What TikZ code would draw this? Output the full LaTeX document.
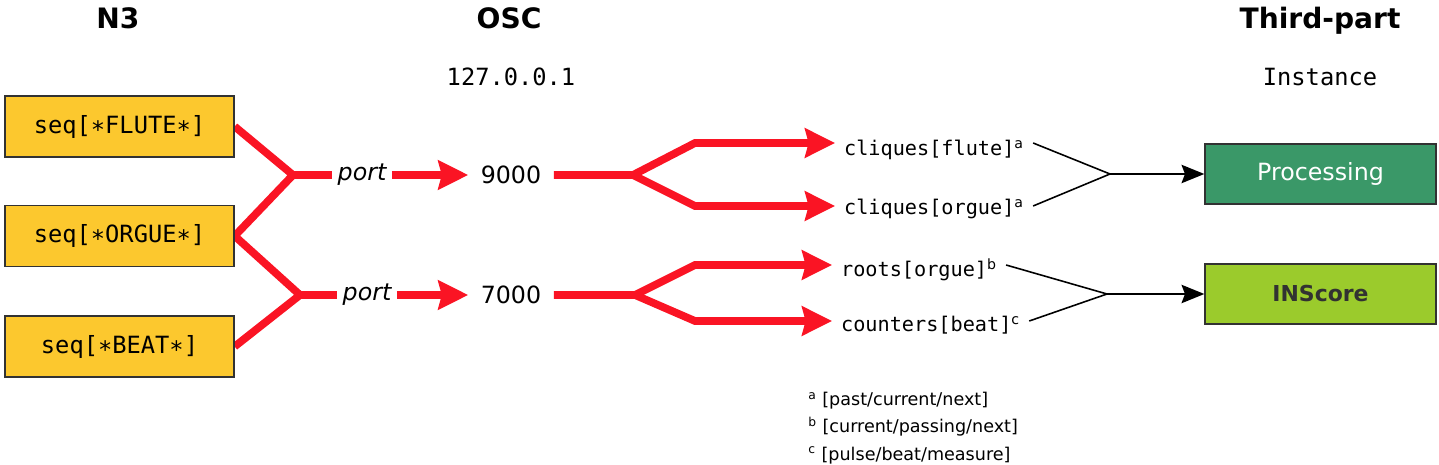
\documentclass[tikz,border=0pt]{standalone}
\usepackage{fontspec}
\setmainfont{DejaVu Sans}
\setmonofont{DejaVu Sans Mono}
\usepackage{xcolor}
\definecolor{seqyellow}{RGB}{252,200,46}
\definecolor{oscred}{RGB}{250,20,36}
\definecolor{procgreen}{RGB}{58,152,104}
\definecolor{insgreen}{RGB}{155,203,44}
\definecolor{boxline}{RGB}{50,50,50}
\usepackage{tikz}
\usetikzlibrary{
  arrows.meta,
  backgrounds
}

\begin{document}
\begin{tikzpicture}[
  x=0.02cm, y=-0.02cm,
  title/.style={anchor=base, font=\fontsize{16}{19}\selectfont\bfseries},
  sub/.style={anchor=base, font=\fontsize{13.5}{16}\selectfont\ttfamily},
  seqbox/.style={rectangle, draw=boxline, line width=0.8pt, fill=seqyellow, minimum width=4.58cm, minimum height=1.22cm, inner sep=0pt, font=\fontsize{13.5}{15}\selectfont\ttfamily},
  appbox/.style={rectangle, draw=boxline, line width=0.8pt, minimum width=4.62cm, minimum height=1.2cm, inner sep=0pt},
  portlbl/.style={inner sep=3pt, font=\fontsize{13.5}{15}\selectfont\itshape},
  portnum/.style={inner xsep=7pt, font=\fontsize{13.5}{15}\selectfont},
  addr/.style={anchor=base west, inner xsep=5pt, font=\fontsize{11.5}{13}\selectfont\ttfamily},
  note/.style={anchor=base west, inner sep=0pt, font=\fontsize{10}{12}\selectfont},
  feed/.style={line width=4.4pt, oscred},
  feedarrow/.style={feed, -{Stealth[length=17pt, width=16.5pt, inset=2pt]}},
  link/.style={line width=0.9pt, black},
  linkarrow/.style={link, -{Stealth[length=13pt, width=10.5pt, inset=2pt]}}
]
  \useasboundingbox (0,0) rectangle (1439,465);

  % Headings
  \node[title] (n3) at (118,29) {N3};
  \node[title] (osc) at (509,29) {OSC};
  \node[title] (third) at (1320,29) {Third-part};
  \node[sub] (ip) at (511,86) {127.0.0.1};
  \node[sub] (inst) at (1320,86) {Instance};

  % N3 sequences
  \node[seqbox] (flute) at (119.5,126.5) {seq[∗FLUTE∗]};
  \node[seqbox] (orgue) at (119.5,236) {seq[∗ORGUE∗]};
  \node[seqbox] (beat) at (119.5,346.5) {seq[∗BEAT∗]};

  % OSC ports
  \coordinate (j1) at (293,175);
  \coordinate (j2) at (300,295);
  \node[portlbl] (p1) at (362,175) {port};
  \node[portlbl] (p2) at (367,295) {port};
  \node[portnum] (n9000) at (511,175) {9000};
  \node[portnum] (n7000) at (511,295) {7000};

  % Addresses
  \coordinate (j3) at (633,175);
  \coordinate (b1) at (695,143);
  \coordinate (b2) at (695,206);
  \coordinate (j4) at (635,295);
  \coordinate (b3) at (695,265);
  \coordinate (b4) at (695,321);
  \node[addr] (cf) at (835,156) {cliques[flute]\textsuperscript{\rmfamily a}};
  \node[addr] (co) at (835,215) {cliques[orgue]\textsuperscript{\rmfamily a}};
  \node[addr] (ro) at (832,277) {roots[orgue]\textsuperscript{\rmfamily b}};
  \node[addr] (cb) at (832,332) {counters[beat]\textsuperscript{\rmfamily c}};

  % Third-part instances
  \coordinate (j5) at (1110,174);
  \coordinate (j6) at (1107,294);
  \node[appbox, fill=procgreen, text=white, font=\fontsize{13.5}{15}\selectfont] (proc) at (1320.5,174) {Processing};
  \node[appbox, fill=insgreen, text=boxline, font=\fontsize{12.5}{14}\selectfont\bfseries] (insc) at (1320.5,294) {INScore};

  % Footnotes
  \node[note] (fa) at (808,406) {\textsuperscript{a} [past/current/next]};
  \node[note] (fb) at (808,433) {\textsuperscript{b} [current/passing/next]};
  \node[note] (fc) at (808,460) {\textsuperscript{c} [pulse/beat/measure]};

  % Edges
  \begin{pgfonlayer}{background}
    \draw[feed] (flute.east) -- (j1) -- (orgue.east) -- (j2) -- (beat.east);
  \end{pgfonlayer}
  \draw[feed] (j1) -- (p1);
  \draw[feed] (j2) -- (p2);
  \draw[feedarrow] (p1) -- (n9000);
  \draw[feedarrow] (p2) -- (n7000);
  \draw[feedarrow] (n9000) -- (j3) -- (b1) -- (b1 -| cf.west);
  \draw[feedarrow] (j3) -- (b2) -- (b2 -| co.west);
  \draw[feedarrow] (n7000) -- (j4) -- (b3) -- (b3 -| ro.west);
  \draw[feedarrow] (j4) -- (b4) -- (b4 -| cb.west);
  \draw[link] (cf.east |- b1) -- (j5) -- (co.east |- b2);
  \draw[linkarrow] (j5) -- (proc);
  \draw[link] (ro.east |- b3) -- (j6) -- (cb.east |- b4);
  \draw[linkarrow] (j6) -- (insc);
\end{tikzpicture}
\end{document}
